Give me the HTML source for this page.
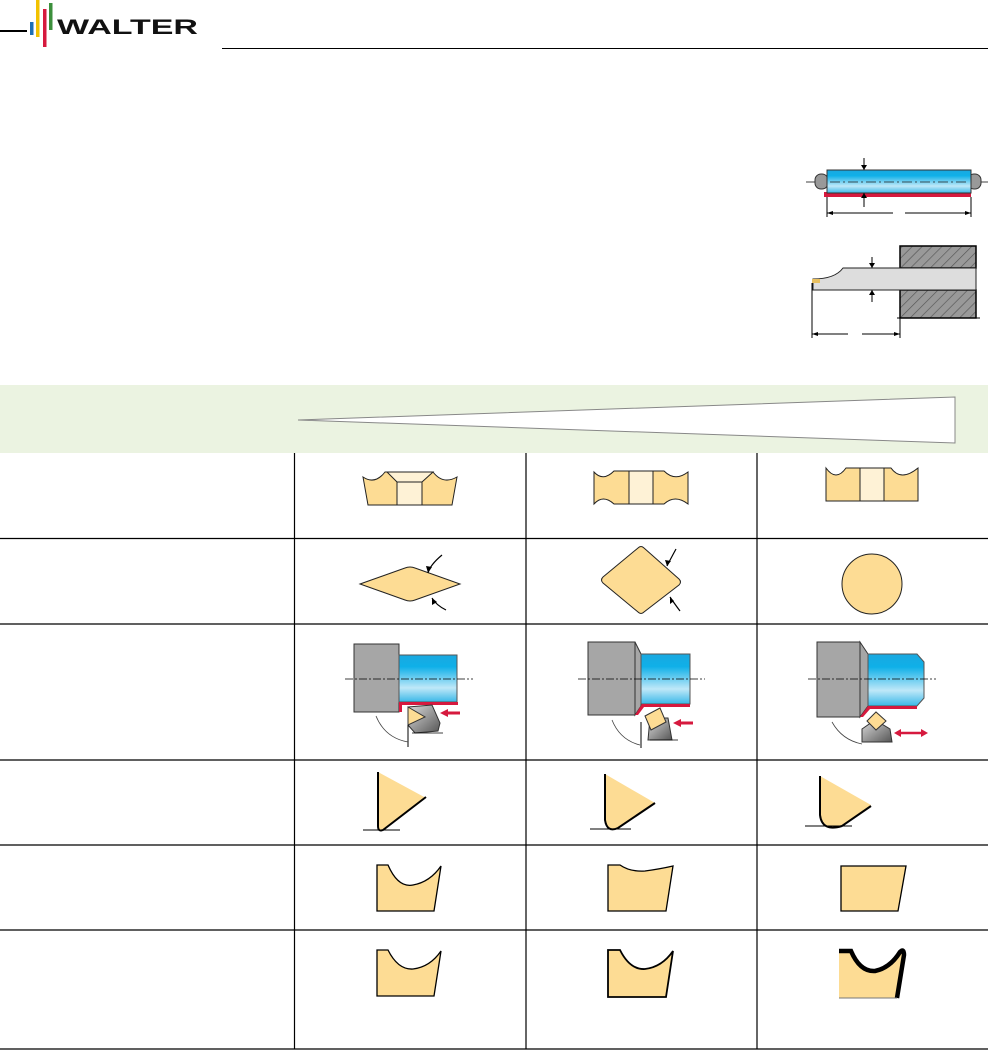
<!DOCTYPE html>
<html><head><meta charset="utf-8"><style>
body{margin:0;background:#fff}
svg{display:block}
</style></head><body>
<svg width="988" height="1050" viewBox="0 0 988 1050" xmlns="http://www.w3.org/2000/svg">
<defs>
<linearGradient id="blue" x1="0" y1="0" x2="0" y2="1">
<stop offset="0" stop-color="#1aa8e0"/><stop offset="0.25" stop-color="#0fb0e8"/><stop offset="0.7" stop-color="#bfe8f8"/><stop offset="1" stop-color="#3ab8e8"/></linearGradient>
<linearGradient id="hold" x1="0" y1="0" x2="1" y2="1"><stop offset="0" stop-color="#ddd"/><stop offset="1" stop-color="#555"/></linearGradient>
<pattern id="hatch" width="7" height="7" patternUnits="userSpaceOnUse" patternTransform="rotate(45)"><rect width="7" height="7" fill="#999"/><line x1="0" y1="0" x2="0" y2="7" stroke="#555" stroke-width="1.3"/></pattern>
</defs>
<!-- logo -->
<rect x="0" y="30" width="27" height="2" fill="#000"/>
<rect x="30" y="22" width="3.5" height="13" fill="#1e6fb5"/>
<rect x="36" y="0" width="3.5" height="37" fill="#f2c200"/>
<rect x="43" y="9" width="3.5" height="38" fill="#d6193e"/>
<rect x="49" y="3" width="3.5" height="27" fill="#3c8f3c"/>
<text x="57" y="34" font-family="Liberation Sans, sans-serif" font-weight="bold" font-size="21" textLength="141" lengthAdjust="spacingAndGlyphs" fill="#111">WALTER</text>
<line x1="222" y1="48.5" x2="988" y2="48.5" stroke="#000" stroke-width="1"/>

<!-- shaft drawing -->
<line x1="806" y1="182" x2="988" y2="182" stroke="#000" stroke-width="0.8"/>
<rect x="815" y="174" width="13" height="15" rx="6" fill="#999" stroke="#333"/>
<rect x="968" y="174" width="13" height="15" rx="6" fill="#999" stroke="#333"/>
<rect x="824" y="192" width="147" height="5" fill="#d6193e"/>
<rect x="827" y="170" width="144" height="23" fill="url(#blue)" stroke="#333"/>
<line x1="830" y1="182" x2="968" y2="182" stroke="#222" stroke-width="0.8" stroke-dasharray="10,3,2,3"/>
<line x1="864" y1="158" x2="864" y2="170" stroke="#000"/><path d="M861,165 L864,170 L867,165Z"/>
<line x1="864" y1="193" x2="864" y2="207" stroke="#000"/><path d="M861,198 L864,193 L867,198Z"/>
<line x1="827" y1="197" x2="827" y2="217" stroke="#000"/><line x1="971" y1="197" x2="971" y2="217" stroke="#000"/>
<line x1="827" y1="213" x2="893" y2="213" stroke="#000"/><line x1="905" y1="213" x2="971" y2="213" stroke="#000"/>
<path d="M827,213 l6,-2 v4Z M971,213 l-6,-2 v4Z"/>
<!-- boring -->
<rect x="900" y="246" width="76" height="22" fill="url(#hatch)" stroke="#000" stroke-width="1.5"/>
<rect x="900" y="290" width="76" height="28" fill="url(#hatch)" stroke="#000" stroke-width="1.5"/>
<path d="M813,279 Q835,279 843,268 L976,268 L976,290 L813,290Z" fill="#ddd" stroke="#222"/>
<rect x="812" y="279" width="8" height="4" fill="#e8c060"/>
<line x1="872" y1="257" x2="872" y2="268" stroke="#000"/><path d="M869,263 L872,268 L875,263Z"/>
<line x1="872" y1="290" x2="872" y2="302" stroke="#000"/><path d="M869,295 L872,290 L875,295Z"/>
<line x1="897" y1="318" x2="980" y2="318" stroke="#000" stroke-dasharray="40,4,3,4"/>
<line x1="812" y1="283" x2="812" y2="338" stroke="#000"/><line x1="900" y1="318" x2="900" y2="338" stroke="#000"/>
<line x1="812" y1="334" x2="848" y2="334" stroke="#000"/><line x1="862" y1="334" x2="900" y2="334" stroke="#000"/>
<path d="M812,334 l6,-2 v4Z M900,334 l-6,-2 v4Z"/>

<!-- green band -->
<rect x="0" y="385" width="988" height="68" fill="#ebf3e1"/>
<path d="M298,420 L955,397 L955,443Z" fill="#fff" stroke="#888" stroke-width="1"/>

<!-- grid -->
<g stroke="#000" stroke-width="1.2">
<line x1="294.5" y1="453" x2="294.5" y2="1049"/>
<line x1="526" y1="453" x2="526" y2="1049"/>
<line x1="757" y1="453" x2="757" y2="1049"/>
<line x1="0" y1="538.5" x2="988" y2="538.5"/>
<line x1="0" y1="624" x2="988" y2="624"/>
<line x1="0" y1="760" x2="988" y2="760"/>
<line x1="0" y1="845" x2="988" y2="845"/>
<line x1="0" y1="930" x2="988" y2="930"/>
<line x1="0" y1="1049" x2="988" y2="1049"/>
</g>

<g stroke="#222" stroke-width="1" fill="#fddc94">
<!-- row1 -->
<path d="M363,477 Q375,485 385,472 L433,472 Q443,485 457,477 L452,505 L368,505Z"/>
<path d="M387,472 L433,472 L422,482 L397,482Z" fill="#fef2d6"/>
<rect x="397" y="482" width="25" height="23" fill="#fef2d6"/>
<path d="M594,472 Q603,482 614,471 L664,471 Q675,482 688,472 L688,504 Q675,494 664,504 L614,504 Q603,494 594,504Z"/>
<rect x="629" y="471" width="24" height="33" fill="#fef2d6"/>
<path d="M826,468 Q836,482 846,468 L891,468 Q901,482 918,468 L918,501 L826,501Z"/>
<rect x="860" y="468" width="24" height="33" fill="#fef2d6"/>
<!-- row2 -->
<path d="M360,584 L405,568 Q410,566 415,568 L460,584 L415,600 Q410,602 405,600Z"/>
<path d="M638,548 Q641,545 644,548 L679,579 Q682,582 679,585 L644,612 Q641,615 638,612 L603,583 Q600,580 603,577Z"/>
<ellipse cx="872" cy="584" rx="30" ry="30"/>
</g>
<g stroke="#000" stroke-width="1.2" fill="none">
<path d="M442,555 Q430,565 428,573"/><path d="M446,610 Q436,605 432,598"/>
<path d="M676,549 Q670,560 667,566"/><path d="M680,611 Q674,603 670,597"/>
</g>
<path d="M428,573 l-2,-7 l6,1Z M432,598 l0,7 l5,-3Z M667,566 l-2,-6 l6,1Z M670,597 l0,7 l4,-3Z"/>

<!-- row3 col1 -->
<g>
<rect x="354" y="644" width="45" height="68" fill="#a6a6a6" stroke="#333"/>
<rect x="399" y="655" width="58" height="47" fill="url(#blue)" stroke="#555"/>
<path d="M399,702 L458,702 L458,705 L402,705 L402,712 L399,712Z" fill="#d6193e"/>
<path d="M408,707 L432,705 L440,723 L438,731 L415,733 L408,725Z" fill="url(#hold)" stroke="#333"/>
<path d="M408,707 L425,717 L408,725Z" fill="#fddc94" stroke="#333"/>
<path d="M445,713 L460,713" stroke="#d6193e" stroke-width="3"/><path d="M440,713 l8,-4 v8Z" fill="#d6193e"/>
<line x1="345" y1="679" x2="473" y2="679" stroke="#000" stroke-width="0.8" stroke-dasharray="8,2,2,2"/>
<line x1="408" y1="725" x2="408" y2="747" stroke="#000"/>
<path d="M376,716 Q385,738 408,742" fill="none" stroke="#444" stroke-width="0.8"/>
<line x1="412" y1="733" x2="443" y2="733" stroke="#000" stroke-width="0.8"/>
</g>
<!-- row3 col2 -->
<g>
<rect x="588" y="642" width="47" height="73" fill="#a6a6a6" stroke="#333"/>
<path d="M635,642 L641,654 L641,706 L635,715Z" fill="#a6a6a6" stroke="#333"/>
<rect x="641" y="654" width="49" height="50" fill="url(#blue)" stroke="#555"/>
<path d="M635,715 L642,704 L690,704 L690,707 L644,707 L638,715Z" fill="#d6193e"/>
<path d="M650,718 L668,718 L672,740 L648,740Z" fill="url(#hold)" stroke="#333"/>
<path d="M645,716 L660,708 L666,722 L651,730Z" fill="#fddc94" stroke="#333"/>
<path d="M678,723 L693,723" stroke="#d6193e" stroke-width="3"/><path d="M673,723 l8,-4 v8Z" fill="#d6193e"/>
<line x1="578" y1="679" x2="705" y2="679" stroke="#000" stroke-width="0.8" stroke-dasharray="8,2,2,2"/>
<line x1="641" y1="722" x2="641" y2="748" stroke="#000"/>
<path d="M612,720 Q620,740 640,745" fill="none" stroke="#444" stroke-width="0.8"/>
<line x1="650" y1="740" x2="678" y2="740" stroke="#000" stroke-width="0.8"/>
</g>
<!-- row3 col3 -->
<g>
<rect x="817" y="642" width="43" height="75" fill="#a6a6a6" stroke="#333"/>
<path d="M860,642 L868,654 L868,706 L860,717Z" fill="#a6a6a6" stroke="#333"/>
<path d="M868,654 L917,654 L924,662 L924,698 L917,706 L868,706Z" fill="url(#blue)" stroke="#555"/>
<path d="M860,717 L868,706 L917,706 L917,709 L870,709 L863,717Z" fill="#d6193e"/>
<path d="M862,729 L875,720 L890,729 L892,742 L862,742Z" fill="url(#hold)" stroke="#333"/>
<path d="M867,721 L876,712 L886,721 L876,730Z" fill="#fddc94" stroke="#333"/>
<path d="M898,733 L924,733" stroke="#d6193e" stroke-width="2.5"/><path d="M894,733 l7,-4 v8Z M928,733 l-7,-4 v8Z" fill="#d6193e"/>
<line x1="808" y1="679" x2="936" y2="679" stroke="#000" stroke-width="0.8" stroke-dasharray="8,2,2,2"/>
<path d="M832,722 Q842,740 862,744" fill="none" stroke="#444" stroke-width="0.8"/>
</g>

<!-- row4 -->
<g fill="#fddc94" stroke="none">
<path d="M378,772 L426,798 L382,830 Q378,830 378,826Z"/>
<path d="M605,774 L655,803 L616,829 Q607,832 605,822Z"/>
<path d="M820,776 L871,805 L842,826 Q825,832 820,815Z"/>
</g>
<g fill="none" stroke="#000" stroke-width="2">
<path d="M378,772 L378,826 Q378,832 383,830 L426,797"/>
<path d="M605,774 L605,820 Q607,833 618,828 L655,803"/>
<path d="M820,776 L820,815 Q822,832 842,826 L871,806"/>
</g>
<g stroke="#000" stroke-width="1"><line x1="363" y1="830" x2="400" y2="830"/><line x1="590" y1="829" x2="631" y2="829"/><line x1="805" y1="826" x2="852" y2="826"/></g>

<!-- row5 -->
<g fill="#fddc94" stroke="#000" stroke-width="1.3">
<path d="M377,865 L388,865 Q398,888 413,885 Q430,882 441,866 L434,911 L377,911Z"/>
<path d="M608,865 L620,865 Q630,872 645,871 Q660,869 673,866 L666,911 L608,911Z"/>
<path d="M841,866 L906,866 L898,911 L841,911Z"/>
<!-- row6 -->
<path d="M377,950 L388,950 Q398,970 413,969 Q430,967 441,951 L434,996 L377,996Z"/>
<path d="M608,950 L620,950 Q630,970 645,969 Q662,967 673,951 L666,997 L608,997Z" stroke-width="1.8"/>
<path d="M839,951 L851,951 Q860,972 875,971 Q890,968 903,950 L897,998 L839,998Z" stroke="none"/>
</g>
<path d="M839,951 L851,951 Q860,972 875,971 Q890,968 900,952 Q904,948 904,955 L897,998" fill="none" stroke="#000" stroke-width="4.5"/>
<line x1="839" y1="998" x2="897" y2="998" stroke="#777" stroke-width="1"/>
</svg>
</body></html>
